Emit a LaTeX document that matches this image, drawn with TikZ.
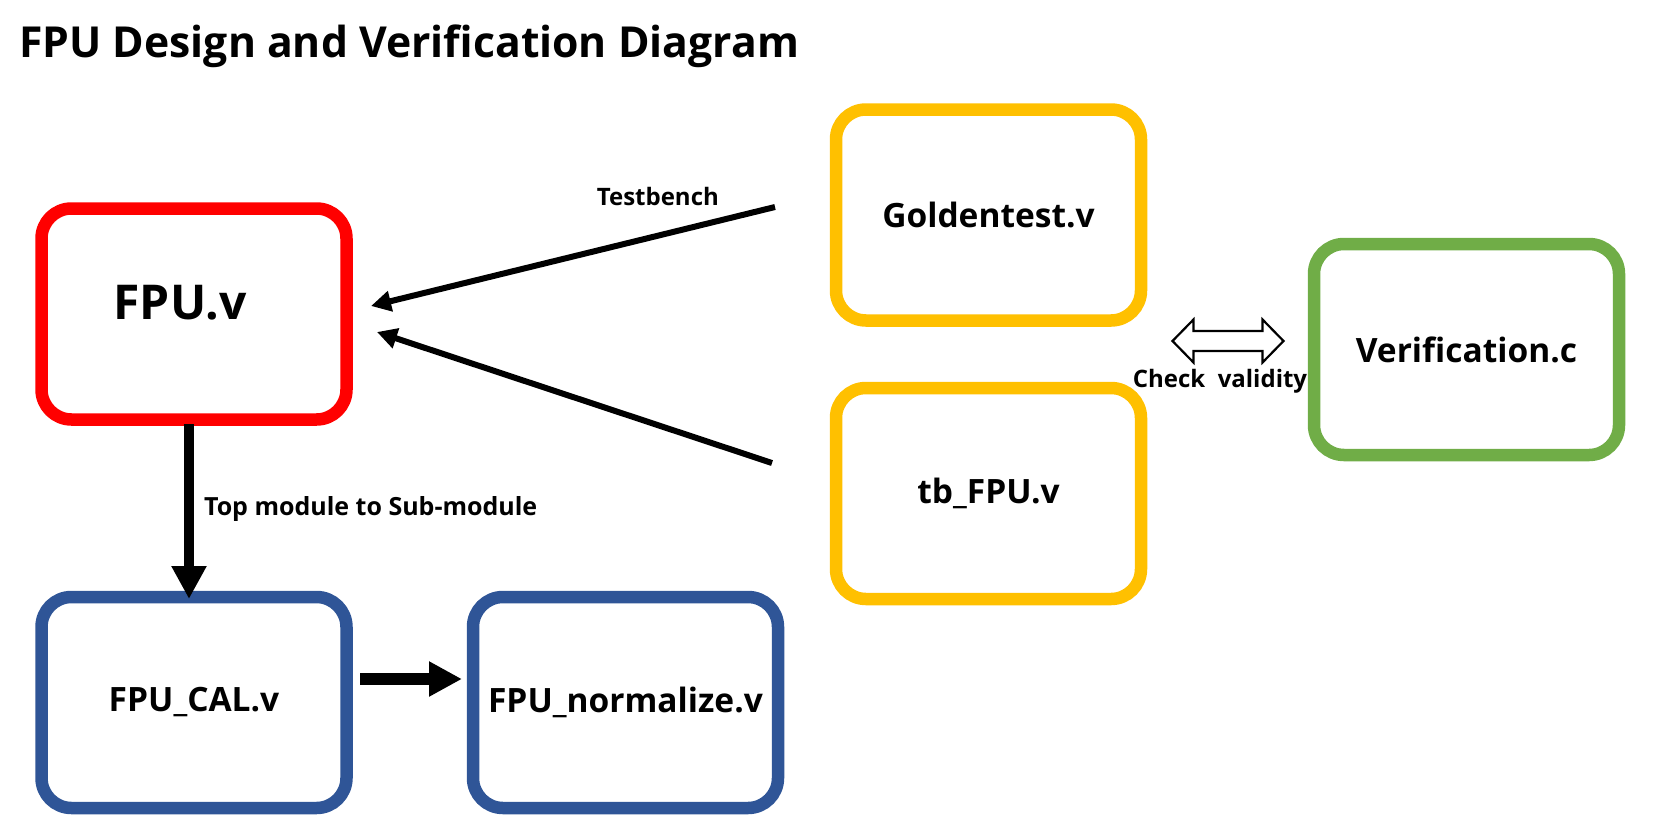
\documentclass[tikz,border=0pt]{standalone}
\usepackage{fontspec}
\setmainfont{Open Sans}
\usepackage{xcolor}
\usepackage{tikz}
\usetikzlibrary{arrows.meta, positioning}
\definecolor{fpured}{HTML}{FF0000}
\definecolor{tbgold}{HTML}{FFC000}
\definecolor{vergreen}{HTML}{70AD47}
\definecolor{subblue}{HTML}{2F5597}

\begin{document}
\begin{tikzpicture}[
  x=1pt, y=-1pt,
  modbox/.style = {draw, line width=12.5pt, rounded corners=30pt,
                   fill=white, minimum width=305pt, minimum height=211pt,
                   outer sep=0pt, inner sep=0pt, align=center,
                   font=\fontsize{33.5}{40}\selectfont\bfseries},
  lbl/.style    = {inner sep=0pt, font=\fontsize{24}{28}\selectfont\bfseries},
  arr/.style    = {-{Triangle[length=20pt,width=20pt]}, line width=6pt},
  bigarr/.style = {-{Triangle[length=33pt,width=33pt]}, line width=12pt},
  dblarr/.style = {draw, line width=2.2pt, fill=white, line join=miter}
]
\useasboundingbox (0,0) rectangle (1654,830);
\node[lbl, anchor=base west, font=\fontsize{42.7}{50}\selectfont\bfseries]
  (title) at (19,57) {FPU Design and Verification Diagram};

\node[modbox, draw=fpured] (fpu) at (194,314) {};
\node[font=\fontsize{48}{56}\selectfont\bfseries, inner sep=0pt]
  (fputxt) at (180,303) {FPU.v};
\node[modbox, draw=subblue, below=177.5pt of fpu] (cal) {FPU\_CAL.v};
\node[modbox, draw=subblue, right=126.5pt of cal] (norm) {FPU\_normalize.v};

\node[modbox, draw=tbgold] (gold) at (988.5,215) {Goldentest.v};
\node[modbox, draw=tbgold, below=67.5pt of gold] (tb) {tb\_FPU.v};
\node[modbox, draw=vergreen] (ver) at (1466.5,349.5) {Verification.c};

\coordinate (chk) at (1228,341);
\draw[dblarr] [shift={(chk)}] (-55.5,0) -- (-34.5,-21.5) -- (-34.5,-10)
  -- (34.5,-10) -- (34.5,-21.5) -- (55.5,0) -- (34.5,21.5) -- (34.5,10)
  -- (-34.5,10) -- (-34.5,21.5) -- cycle;
\node[lbl] (chklbl) at ([xshift=-8pt, yshift=-40pt]chk) {Check\ \ validity};

\draw[arr] ([xshift=-61pt, yshift=8pt]gold.west)
  -- node[lbl, pos=0.29, yshift=39pt] (tblbl) {Testbench}
  ([xshift=24.5pt, yshift=8pt]fpu.east);
\draw[arr] ([xshift=-64pt, yshift=30.5pt]tb.west)
  -- ([xshift=30.5pt, yshift=-18pt]fpu.east);
\draw[bigarr, line width=10pt] ([xshift=-5pt, yshift=-4.5pt]fpu.south)
  -- node[lbl, anchor=west, pos=0.485, xshift=10pt,
          font=\fontsize{25}{29}\selectfont\bfseries] (toplbl) {Top module to Sub-module}
  ([xshift=-5pt, yshift=-2pt]cal.north);
\draw[bigarr] ([xshift=13.5pt, yshift=23.5pt]cal.east)
  -- ([xshift=-11pt, yshift=23.5pt]norm.west);
\end{tikzpicture}
\end{document}
